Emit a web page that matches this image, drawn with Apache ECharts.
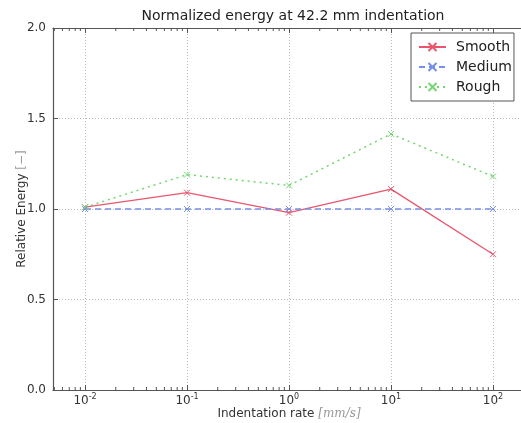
<!DOCTYPE html>
<html lang="en">
<head>
    <meta charset="UTF-8">
    <title>Normalized energy</title>
</head>
<body style="margin:0">
    <div id="card" style="width: 521px;height:423px;"></div>
    <script src="https://cdn.jsdelivr.net/npm/echarts@6/dist/echarts.min.js"></script>
    <script>
        // indentation rate [mm/s]
        var rates = [0.01, 0.1, 1, 10, 100];
        var smooth = [1.01, 1.09, 0.98, 1.11, 0.75];
        var medium = [1.0, 1.0, 1.0, 1.0, 1.0];
        var rough = [1.01, 1.19, 1.13, 1.415, 1.18];
        var yTicks = [0, 0.5, 1.0, 1.5, 2.0];

        var xMin = 0.00485, xMax = 206;
        var font = 'DejaVu Sans';
        var axisColor = '#555';

        var pairs = function (ys) {
            return rates.map(function (r, i) { return [r, ys[i]]; });
        };

        // minor log ticks 2..9 per decade, only inside the visible range
        var minorTicks = [];
        [0.001, 0.01, 0.1, 1, 10, 100].forEach(function (d) {
            for (var k = 2; k <= 9; k++) {
                var v = k * d;
                if (v > xMin && v < xMax) minorTicks.push(v);
            }
        });

        var cross = 'path://M0,0L10,10M10,0L0,10';

        var lineSeries = function (name, ys, color, type, width) {
            return {
                name: name,
                type: 'line',
                data: pairs(ys),
                symbol: cross,
                symbolSize: 6,
                showSymbol: true,
                lineStyle: { color: color, width: width, type: type },
                itemStyle: { color: color, borderColor: color, borderWidth: 1 },
                emphasis: { disabled: true },
                animation: false,
                z: 3
            };
        };

        var option = {
            backgroundColor: '#fff',
            animation: false,
            title: {
                text: 'Normalized energy at 42.2 mm indentation',
                left: 288,
                textAlign: 'center',
                top: 4,
                textStyle: { fontFamily: font, fontSize: 14, fontWeight: 'normal', color: '#222' }
            },
            legend: {
                orient: 'vertical',
                left: 411,
                top: 33,
                padding: [7, 2, 7, 7],
                itemGap: 6,
                itemWidth: 27,
                itemHeight: 10,
                borderColor: '#555',
                borderWidth: 1,
                backgroundColor: '#fff',
                textStyle: { fontFamily: font, fontSize: 14, color: '#222', padding: [0, 0, 0, 5] },
                data: ['Smooth', 'Medium', 'Rough']
            },
            grid: { left: 53, right: -4, top: 28, bottom: 33, outerBoundsMode: 'none', containLabel: false },
            xAxis: [{
                type: 'log',
                logBase: 10,
                min: xMin,
                max: xMax,
                name: 'Indentation rate {u|[mm/s]}',
                nameLocation: 'middle',
                nameGap: 18,
                nameMoveOverlap: false,
                nameTextStyle: {
                    fontFamily: font, fontSize: 12, color: '#333',
                    rich: { u: { fontFamily: 'DejaVu Serif', fontStyle: 'italic', fontSize: 12, color: '#999' } }
                },
                axisLine: { lineStyle: { color: axisColor, width: 1.2 } },
                axisTick: { inside: true, length: 5, lineStyle: { color: axisColor } },
                axisLabel: {
                    showMinLabel: false,
                    showMaxLabel: false,
                    margin: 3,
                    fontFamily: font,
                    fontSize: 12,
                    color: '#333',
                    formatter: function (v) {
                        var e = Math.round(Math.log10(v));
                        return '10{e|' + e + '}';
                    },
                    rich: { e: { fontSize: 8, padding: [0, 0, 8, 0], fontFamily: font, color: '#333' } }
                },
                splitLine: {
                    show: true, showMinLine: false, showMaxLine: false,
                    lineStyle: { color: '#bbb', type: [1, 2], width: 1 }
                }
            }, {
                type: 'log',
                logBase: 10,
                min: xMin,
                max: xMax,
                position: 'top',
                axisLine: { lineStyle: { color: axisColor, width: 1.2 } },
                axisTick: { inside: true, length: 5, lineStyle: { color: axisColor } },
                axisLabel: { show: false },
                splitLine: { show: false }
            }],
            yAxis: {
                type: 'value',
                min: yTicks[0],
                max: yTicks[yTicks.length - 1],
                interval: 0.5,
                name: 'Relative Energy {u|[−]}',
                nameLocation: 'middle',
                nameGap: 25,
                nameMoveOverlap: false,
                nameTextStyle: {
                    fontFamily: font, fontSize: 12, color: '#333',
                    rich: { u: { fontFamily: font, fontSize: 12, color: '#999' } }
                },
                axisLine: { show: true, lineStyle: { color: axisColor, width: 1.2 } },
                axisTick: { show: true, inside: true, length: 5, lineStyle: { color: axisColor } },
                axisLabel: {
                    margin: 7,
                    fontFamily: font, fontSize: 12, color: '#333',
                    formatter: function (v) { return v.toFixed(1); }
                },
                splitLine: {
                    show: true, showMinLine: false, showMaxLine: false,
                    lineStyle: { color: '#bbb', type: [1, 2], width: 1 }
                }
            },
            series: [
                lineSeries('Smooth', smooth, '#e8566e', 'solid', 1.3),
                lineSeries('Medium', medium, '#7590e6', [6, 4], 1.5),
                lineSeries('Rough', rough, '#72d672', [2, 4], 1.5),
                {
                    // minor ticks on bottom and top frame
                    type: 'custom',
                    data: minorTicks.map(function (v) { return [v, 0]; }),
                    silent: true,
                    animation: false,
                    renderItem: function (params, api) {
                        var b = api.coord([api.value(0), 0]);
                        var t = api.coord([api.value(0), 2]);
                        var st = { stroke: axisColor, lineWidth: 1 };
                        return {
                            type: 'group',
                            children: [
                                { type: 'line', shape: { x1: b[0], y1: b[1], x2: b[0], y2: b[1] - 3 }, style: st },
                                { type: 'line', shape: { x1: t[0], y1: t[1], x2: t[0], y2: t[1] + 3 }, style: st }
                            ]
                        };
                    },
                    z: 1
                }
            ]
        };

        var myChart = echarts.init(document.querySelector('#card'));
        myChart.setOption(option);
    </script>
</body>
</html>
